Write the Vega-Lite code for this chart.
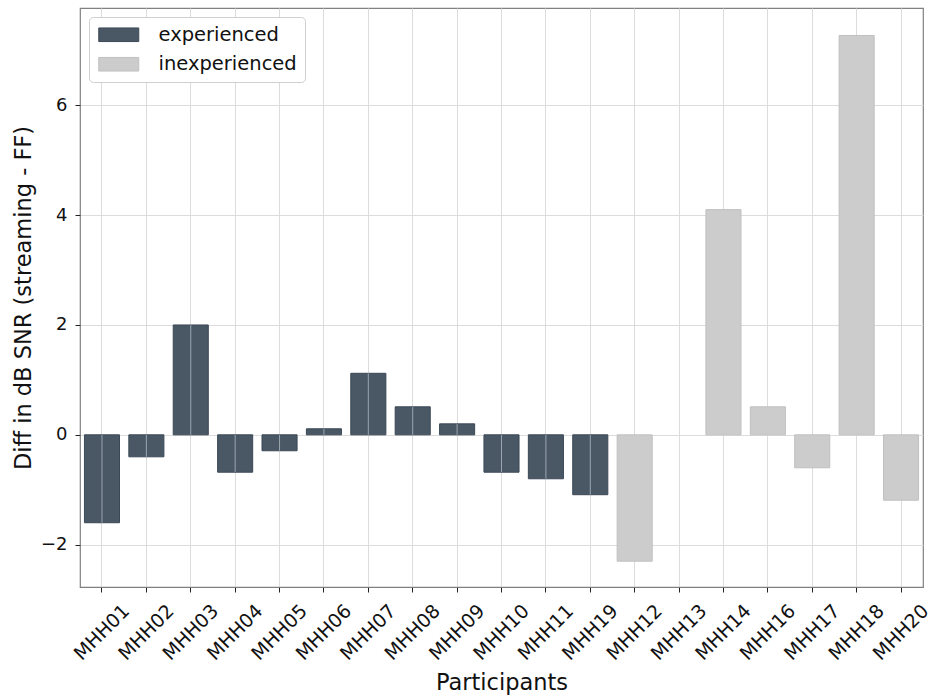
{
  "$schema": "https://vega.github.io/schema/vega-lite/v6.json",
  "width": 843,
  "height": 579,
  "autosize": {"type": "none"},
  "padding": {"left": 80, "top": 8, "right": 12, "bottom": 113},
  "background": "white",
  "config": {
    "font": "DejaVu Sans",
    "view": {"stroke": "#808080", "strokeWidth": 1.2},
    "axis": {"gridColor": "#dcdcdc", "gridWidth": 1, "domain": false, "tickColor": "#222", "tickSize": 5, "labelColor": "#111", "titleColor": "#111", "titleFontWeight": "normal"}
  },
  "data": {
    "values": [
      {"participant": "MHH01", "diff": -1.6, "group": "experienced"},
      {"participant": "MHH02", "diff": -0.4, "group": "experienced"},
      {"participant": "MHH03", "diff": 2.0, "group": "experienced"},
      {"participant": "MHH04", "diff": -0.68, "group": "experienced"},
      {"participant": "MHH05", "diff": -0.29, "group": "experienced"},
      {"participant": "MHH06", "diff": 0.11, "group": "experienced"},
      {"participant": "MHH07", "diff": 1.12, "group": "experienced"},
      {"participant": "MHH08", "diff": 0.51, "group": "experienced"},
      {"participant": "MHH09", "diff": 0.2, "group": "experienced"},
      {"participant": "MHH10", "diff": -0.68, "group": "experienced"},
      {"participant": "MHH11", "diff": -0.8, "group": "experienced"},
      {"participant": "MHH19", "diff": -1.09, "group": "experienced"},
      {"participant": "MHH12", "diff": -2.3, "group": "inexperienced"},
      {"participant": "MHH13", "diff": 0.0, "group": "inexperienced"},
      {"participant": "MHH14", "diff": 4.1, "group": "inexperienced"},
      {"participant": "MHH16", "diff": 0.51, "group": "inexperienced"},
      {"participant": "MHH17", "diff": -0.6, "group": "inexperienced"},
      {"participant": "MHH18", "diff": 7.27, "group": "inexperienced"},
      {"participant": "MHH20", "diff": -1.19, "group": "inexperienced"}
    ]
  },
  "encoding": {
    "x": {
      "field": "participant", "type": "nominal", "sort": null,
      "scale": {"paddingInner": 0.21, "paddingOuter": 0.1},
      "axis": {"title": "Participants", "titleFontSize": 22.5, "labelFontSize": 19, "labelAngle": -45, "labelAlign": "center", "labelBaseline": "middle", "labelPadding": 40, "titlePadding": 8, "grid": true}
    },
    "y": {
      "field": "diff", "type": "quantitative",
      "scale": {"domain": [-2.77, 7.77], "nice": false, "zero": false},
      "axis": {"title": "Diff in dB SNR (streaming - FF)", "titleFontSize": 22.5, "labelFontSize": 18, "values": [-2, 0, 2, 4, 6], "labelPadding": 8, "titlePadding": 5, "grid": true}
    }
  },
  "layer": [
    {
      "mark": {"type": "bar", "strokeWidth": 1},
      "encoding": {
        "color": {
          "field": "group", "type": "nominal",
          "scale": {"domain": ["experienced", "inexperienced"], "range": ["#4a5866", "#cccccc"]},
          "legend": {
            "title": null, "orient": "none", "legendX": 9, "legendY": 9,
            "labelFontSize": 19.5, "labelColor": "#111",
            "symbolType": "M-1,-0.85H4V0.85H-1Z", "symbolSize": 256, "symbolStrokeWidth": 1, "symbolOpacity": 1,
            "labelOffset": 42, "rowPadding": 8.5, "padding": 8,
            "fillColor": "white", "strokeColor": "#d0d0d0", "cornerRadius": 4
          }
        },
        "stroke": {
          "field": "group", "type": "nominal",
          "scale": {"domain": ["experienced", "inexperienced"], "range": ["#3b4856", "#c0c0c0"]},
          "legend": null
        },
        "strokeOpacity": {"condition": {"test": "datum.diff === 0", "value": 0}, "value": 1}
      }
    },
    {
      "transform": [{"filter": "datum.group === 'experienced'"}],
      "mark": {"type": "rule", "color": "#9aa5ae", "strokeWidth": 1},
      "encoding": {
        "y2": {"datum": 0}
      }
    }
  ]
}
